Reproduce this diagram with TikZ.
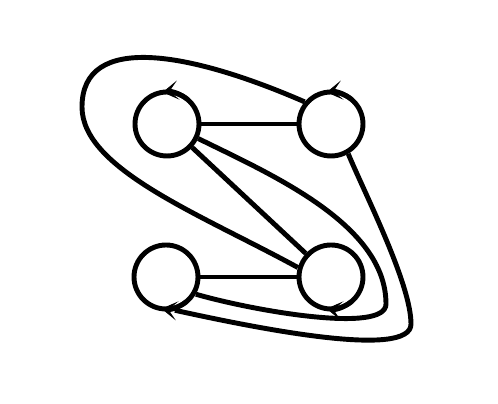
\documentclass[tikz,border=0pt]{standalone}
\usepackage{tikz}
\usetikzlibrary{arrows.meta}

\begin{document}
\begin{tikzpicture}[x=0.02cm, y=0.02cm, line width=2.8pt,
  vertex/.style={draw, circle, minimum size=1.28cm, inner sep=0pt},
  spin/.style={-{Stealth[length=9pt, width=11pt, inset=5pt, line width=0.6pt]}}]
  \useasboundingbox (0,0) rectangle (498,404);

  \node[vertex] (A) at (167,280) {};
  \node[vertex] (B) at (331,280) {};
  \node[vertex] (C) at (166,127) {};
  \node[vertex] (D) at (331,127) {};

  % orientation of each vertex
  \draw[spin] (A.center) ++(50:32) arc[start angle=50, end angle=98, radius=32];
  \draw[spin] (B.center) ++(50:32) arc[start angle=50, end angle=98, radius=32];
  \draw[spin] (C.center) ++(310:32) arc[start angle=310, end angle=262, radius=32];
  \draw[spin] (D.center) ++(310:32) arc[start angle=310, end angle=262, radius=32];

  \draw (A) -- (B);
  \draw (C) -- (D);
  \draw (A) -- (D);

  % outer loop round A
  \draw (B.140) .. controls (190,352) and (82,372) .. (82,297)
                .. controls (82,235) and (200,190) .. (D.164);

  % loop round D
  \draw (A.-25) .. controls (270,230) and (386,180) .. (386,100)
                .. controls (386,70) and (254,93) .. (C.-30);

  % loop from B down to C
  \draw (B.-60) .. controls (365,210) and (411,120) .. (411,80)
                .. controls (411,45) and (260,75) .. (C.-75);
\end{tikzpicture}
\end{document}
